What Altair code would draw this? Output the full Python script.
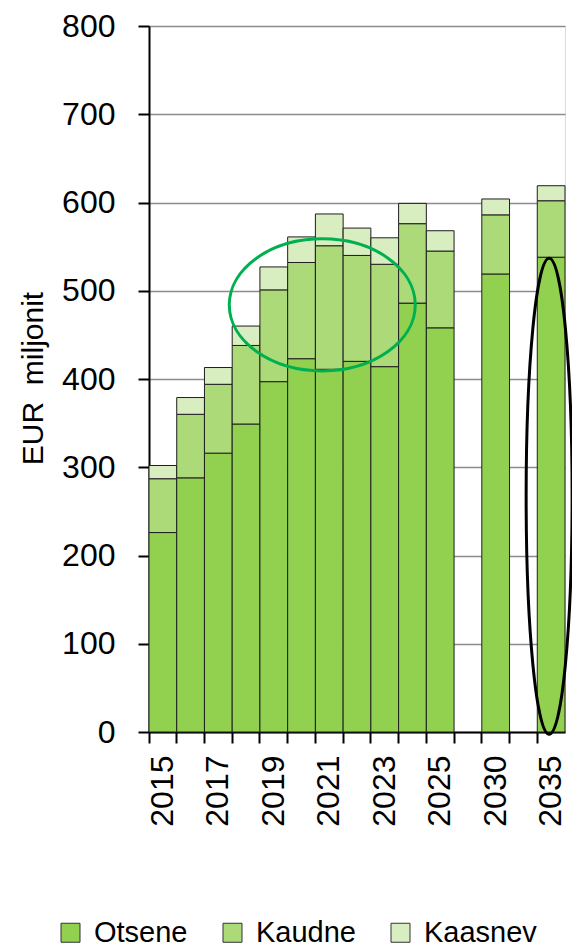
import altair as alt
import pandas as pd

# Years on the category axis, with two empty slots separating 2025 / 2030 / 2035
years = ["2015", "2016", "2017", "2018", "2019", "2020", "2021", "2022",
         "2023", "2024", "2025", "2030", "2035"]
x_slots = ["2015", "2016", "2017", "2018", "2019", "2020", "2021", "2022",
           "2023", "2024", "2025", " ", "2030", "  ", "2035"]
shown_labels = ["2015", "2017", "2019", "2021", "2023", "2025", "2030", "2035"]

# EUR millions per component
otsene = [226, 288, 316, 349, 397, 423, 411, 420, 414, 486, 458, 519, 538]
kaudne = [61, 72, 78, 89, 104, 109, 140, 120, 116, 90, 87, 67, 64]
kaasnev = [15, 19, 19, 22, 26, 29, 36, 31, 30, 23, 23, 18, 17]

series = ["Otsene", "Kaudne", "Kaasnev"]
colors = ["#92D050", "#ADDA78", "#D8EEC0"]
y_ticks = [0, 100, 200, 300, 400, 500, 600, 700, 800]

rows = []
for i, yr in enumerate(years):
    for k, (name, vals) in enumerate(zip(series, [otsene, kaudne, kaasnev])):
        rows.append({"aasta": yr, "liik": name, "väärtus": vals[i], "jrk": k})
df = pd.DataFrame(rows)

FONT = "Liberation Sans, Arial, sans-serif"
label_expr = "indexof(" + str(shown_labels) + ", datum.value) >= 0 ? datum.value : ''"

x_enc = alt.X(
    "aasta:N",
    scale=alt.Scale(domain=x_slots, paddingInner=0, paddingOuter=0),
    axis=alt.Axis(
        title=None, labelAngle=-90, labelFont=FONT, labelFontSize=32,
        labelColor="#000", labelPadding=12, labelExpr=label_expr,
        tickSize=11, tickColor="#000", tickWidth=2, bandPosition=0,
        domainColor="#000", domainWidth=2, labelOverlap=False,
    ),
)

bars = alt.Chart(df).mark_bar(stroke="#1e1e1e", strokeWidth=1).encode(
    x=x_enc,
    y=alt.Y(
        "väärtus:Q",
        stack="zero",
        scale=alt.Scale(domain=[0, 800], nice=False),
        axis=alt.Axis(
            title="EUR\u00a0 miljonit", titleFont=FONT, titleFontSize=30,
            titleFontWeight="normal", titleColor="#000", titleX=-101, titleY=352,
            values=y_ticks, labelFont=FONT, labelFontSize=32, labelColor="#000",
            labelPadding=23, tickSize=11, tickColor="#000", tickWidth=2,
            domainColor="#000", domainWidth=2,
            grid=True, gridColor="#8c8c8c", gridWidth=1.5,
        ),
    ),
    color=alt.Color(
        "liik:N",
        scale=alt.Scale(domain=series, range=colors),
        legend=alt.Legend(
            title=None, orient="none", direction="horizontal",
            legendX=-93, legendY=892,
            symbolType="square", symbolSize=361, symbolStrokeColor="#333",
            symbolStrokeWidth=1, symbolOpacity=1,
            labelFont=FONT, labelFontSize=29, labelColor="#000",
            labelOffset=9, columnPadding=30,
        ),
    ),
    order=alt.Order("jrk:Q", sort="ascending"),
)

# Highlight ellipses drawn as custom symbol outlines
green_ring = alt.Chart(pd.DataFrame({"aasta": ["2021"], "väärtus": [484]})).mark_point(
    shape="M -1 0 A 1 0.71 0 1 0 1 0 A 1 0.71 0 1 0 -1 0 Z",
    size=34596, filled=False, stroke="#00B050", strokeWidth=3, opacity=1, xOffset=-7,
).encode(x=alt.X("aasta:N"), y=alt.Y("väärtus:Q"))

black_ring = alt.Chart(pd.DataFrame({"aasta": ["2035"], "väärtus": [267]})).mark_point(
    shape="M 0 -1 A 0.0966 1 0 1 0 0 1 A 0.0966 1 0 1 0 0 -1 Z",
    size=226576, filled=False, stroke="#000000", strokeWidth=3, opacity=1, xOffset=-2,
).encode(x=alt.X("aasta:N"), y=alt.Y("väärtus:Q"))

chart = alt.layer(bars, green_ring, black_ring).properties(
    width=416, height=706,
    autosize=alt.AutoSizeParams(type="none"),
    padding={"left": 149, "top": 26, "right": 7, "bottom": 218},
).configure_view(stroke=None).configure(background="white")

chart.save("out.html", embed_options={"renderer": "svg", "actions": False})
